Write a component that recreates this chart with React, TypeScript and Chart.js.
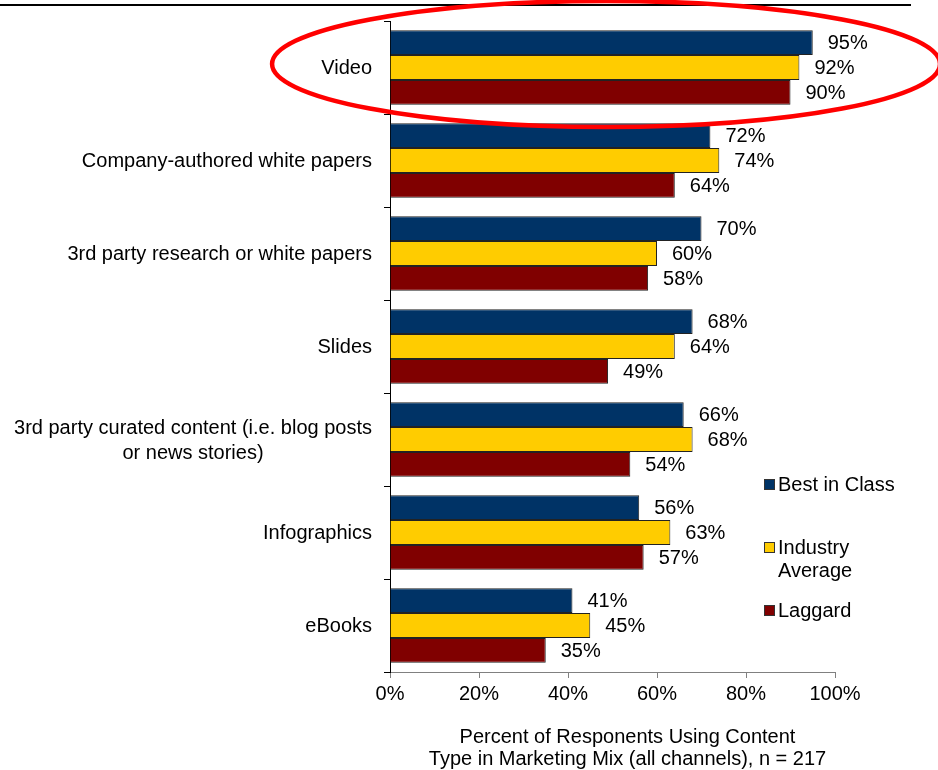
import React, { useEffect, useRef } from 'react';
import { Chart, registerables } from 'chart.js';

Chart.register(...registerables);

// ---- Data ----
const categories: (string | string[])[] = [
  'Video',
  'Company-authored white papers',
  '3rd party research or white papers',
  'Slides',
  ['3rd party curated content (i.e. blog posts', 'or news stories)'],
  'Infographics',
  'eBooks',
];
const seriesNames = ['Best in Class', 'Industry Average', 'Laggard'];
const legendLabels = [['Best in Class'], ['Industry', 'Average'], ['Laggard']];
const bestInClass = [95, 72, 70, 68, 66, 56, 41];
const industryAverage = [92, 74, 60, 64, 68, 63, 45];
const laggard = [90, 64, 58, 49, 54, 57, 35];
const seriesColors = ['#003366', '#FFCC00', '#800000'];
const xMin = 0;
const xMax = 100;
const xStep = 20;
const xTitle = ['Percent of Responents Using Content', 'Type in Marketing Mix (all channels), n = 217'];
const highlightIndex = 0; // "Video" is circled

const FONT = '"Liberation Sans", Arial, Helvetica, sans-serif';

const decorPlugin = {
  id: 'decor',
  beforeDraw(chart: any) {
    const ctx = chart.ctx;
    ctx.save();
    ctx.fillStyle = '#000';
    ctx.fillRect(0, 4, 911, 2);
    ctx.restore();
  },
  afterDatasetsDraw(chart: any) {
    const ctx = chart.ctx;
    ctx.save();
    ctx.font = `20px ${FONT}`;
    ctx.fillStyle = '#000';
    ctx.textAlign = 'left';
    ctx.textBaseline = 'middle';
    chart.data.datasets.forEach((ds: any, i: number) => {
      const meta = chart.getDatasetMeta(i);
      meta.data.forEach((el: any, j: number) => {
        const { x, y } = el.getProps(['x', 'y'], true);
        ctx.fillText(`${ds.data[j]}%`, x + 15, y + 1);
      });
    });
    ctx.restore();
  },
  afterDraw(chart: any) {
    const ctx = chart.ctx;
    const ys = chart.scales.y;
    const xs = chart.scales.x;
    const area = chart.chartArea;
    // y category labels: block right-aligned, lines centered
    ctx.save();
    ctx.font = `20px ${FONT}`;
    ctx.fillStyle = '#000';
    ctx.textAlign = 'center';
    ctx.textBaseline = 'middle';
    const right = area.left - 18;
    const lh = 25;
    categories.forEach((lab, i) => {
      const lines = Array.isArray(lab) ? lab : [lab];
      const maxW = Math.max(...lines.map((l) => ctx.measureText(l).width));
      const cx = right - maxW / 2;
      const cy = ys.getPixelForValue(i);
      lines.forEach((l, k) => {
        ctx.fillText(l, cx, cy + (k - (lines.length - 1) / 2) * lh + 1);
      });
    });

    // x axis title (two lines, centred slightly right of the plot centre)
    const tx = (area.left + area.right) / 2 + 15;
    const ty = area.bottom + 65;
    xTitle.forEach((l, k) => {
      ctx.fillText(l, tx, ty + k * 22);
    });
    ctx.restore();

    // red highlight ellipse
    const ecy = ys.getPixelForValue(highlightIndex) - 3.5;
    const left = xs.getPixelForValue(-26.5);
    const rightE = xs.getPixelForValue(123.6);
    ctx.save();
    ctx.strokeStyle = '#ff0000';
    ctx.lineWidth = 4.5;
    ctx.beginPath();
    ctx.ellipse((left + rightE) / 2, ecy, (rightE - left) / 2, 63, 0, 0, Math.PI * 2);
    ctx.stroke();
    ctx.restore();
  },
};

export default function App() {
  const ref = useRef<HTMLCanvasElement>(null);

  useEffect(() => {
    if (!ref.current) return;
    const values = [bestInClass, industryAverage, laggard];
    const chart = new Chart(ref.current, {
      type: 'bar',
      data: {
        labels: categories as any,
        datasets: seriesNames.map((name, i) => ({
          label: name,
          data: values[i],
          backgroundColor: seriesColors[i],
          borderColor: '#222',
          borderWidth: 1,
          categoryPercentage: 0.8,
          barPercentage: 1.0,
        })),
      },
      options: {
        indexAxis: 'y',
        responsive: false,
        animation: false,
        layout: { padding: { top: 21, right: 103, left: 0, bottom: 0 } },
        plugins: {
          legend: { display: false },
          tooltip: { enabled: false },
        },
        scales: {
          x: {
            min: xMin,
            max: xMax,
            ticks: {
              stepSize: xStep,
              callback: (v: any) => `${v}%`,
              font: { family: FONT, size: 20 },
              color: '#000',
              padding: 4,
              maxRotation: 0,
            },
            grid: { drawOnChartArea: false, drawTicks: true, tickLength: 6, color: '#808080' },
            border: { display: true, color: '#808080', width: 1 },
            title: { display: false },
            afterFit: (s: any) => {
              s.height = 98;
            },
          },
          y: {
            ticks: { color: 'rgba(0,0,0,0)', font: { family: FONT, size: 20 } },
            grid: { drawOnChartArea: false, drawTicks: true, tickLength: 6, color: '#000', offset: true },
            border: { display: true, color: '#000', width: 1 },
            afterFit: (s: any) => {
              s.width = 390;
            },
          },
        },
      },
      plugins: [decorPlugin],
    });
    return () => chart.destroy();
  }, []);

  const legendTops = [473, 536, 599];

  return (
    <div style={{ position: 'absolute', left: 0, top: 0, width: 938, height: 770, background: '#fff' }}>
      <canvas ref={ref} width={938} height={770} style={{ position: 'absolute', left: 0, top: 0, width: 938, height: 770 }} />
      {seriesNames.map((name, i) => (
        <div
          key={name}
          style={{
            position: 'absolute',
            left: 764,
            top: legendTops[i],
            display: 'flex',
            alignItems: 'flex-start',
            fontFamily: FONT,
            fontSize: 20,
            lineHeight: '23px',
            color: '#000',
          }}
        >
          <div
            style={{
              width: 11,
              height: 11,
              marginTop: 6,
              boxSizing: 'border-box',
              border: '1px solid #333',
              background: seriesColors[i],
              flex: '0 0 auto',
            }}
          />
          <div style={{ marginLeft: 3, whiteSpace: 'nowrap' }}>
            {legendLabels[i].map((l) => (
              <div key={l}>{l}</div>
            ))}
          </div>
        </div>
      ))}
    </div>
  );
}
